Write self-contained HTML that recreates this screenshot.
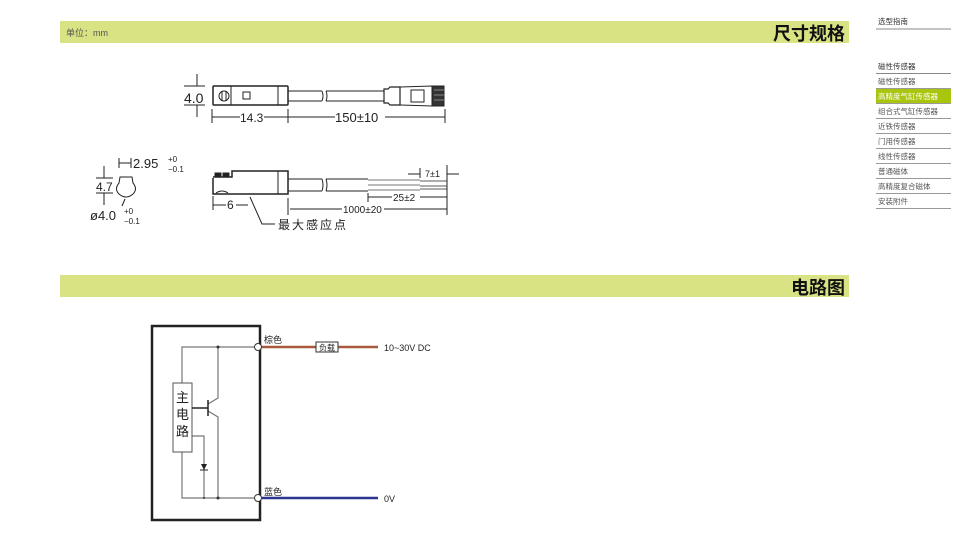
<!DOCTYPE html>
<html><head><meta charset="utf-8"><style>
html,body{margin:0;padding:0;background:#fff;}
svg{display:block;}
text{font-family:"Liberation Sans","Noto Sans CJK SC",sans-serif;}
</style></head><body>
<svg width="953" height="536" viewBox="0 0 953 536" xmlns="http://www.w3.org/2000/svg">
<!-- header bars -->
<rect x="60" y="21" width="789" height="22" fill="#dae384"/>
<text x="66" y="36" font-size="9" fill="#555">单位：mm</text>
<text x="845" y="40" font-size="18" font-weight="bold" fill="#111" text-anchor="end">尺寸规格</text>
<rect x="60" y="275" width="789" height="22" fill="#dae384"/>
<text x="845" y="294" font-size="18" font-weight="bold" fill="#111" text-anchor="end">电路图</text>

<!-- sidebar -->
<g font-size="7.5" fill="#333">
<text x="878" y="24">选型指南</text>
<line x1="876" y1="29" x2="951" y2="29" stroke="#888" stroke-width="1"/>
<text x="878" y="69">磁性传感器</text>
<line x1="876" y1="73.5" x2="951" y2="73.5" stroke="#888"/>
<text x="878" y="84" fill="#555">磁性传感器</text>
<line x1="876" y1="88.5" x2="951" y2="88.5" stroke="#999"/>
<rect x="876" y="89" width="75" height="14" fill="#a9c50e"/>
<text x="878" y="99" fill="#fff">高精度气缸传感器</text>
<line x1="876" y1="103.5" x2="951" y2="103.5" stroke="#999"/>
<text x="878" y="114" fill="#555">组合式气缸传感器</text>
<line x1="876" y1="118.5" x2="951" y2="118.5" stroke="#999"/>
<text x="878" y="129" fill="#555">近铁传感器</text>
<line x1="876" y1="133.5" x2="951" y2="133.5" stroke="#999"/>
<text x="878" y="144" fill="#555">门用传感器</text>
<line x1="876" y1="148.5" x2="951" y2="148.5" stroke="#999"/>
<text x="878" y="159" fill="#555">线性传感器</text>
<line x1="876" y1="163.5" x2="951" y2="163.5" stroke="#999"/>
<text x="878" y="174" fill="#555">普通磁体</text>
<line x1="876" y1="178.5" x2="951" y2="178.5" stroke="#999"/>
<text x="878" y="189" fill="#555">高精度复合磁体</text>
<line x1="876" y1="193.5" x2="951" y2="193.5" stroke="#999"/>
<text x="878" y="204" fill="#555">安装附件</text>
<line x1="876" y1="208.5" x2="951" y2="208.5" stroke="#999"/>
</g>

<!-- top view -->
<g stroke="#222" fill="none" stroke-width="1">
<rect x="213" y="86" width="75" height="19" rx="1" stroke-width="1.5"/>
<circle cx="224" cy="96" r="5"/>
<line x1="222" y1="91" x2="222" y2="101"/><line x1="226" y1="91" x2="226" y2="101"/>
<line x1="231" y1="86" x2="231" y2="105"/>
<rect x="243" y="92" width="7" height="7"/>
<line x1="278" y1="86" x2="278" y2="105"/>
<line x1="288" y1="91" x2="322" y2="91"/><line x1="288" y1="101" x2="322" y2="101"/>
<line x1="326" y1="91" x2="384" y2="91"/><line x1="326" y1="101" x2="384" y2="101"/>
<path d="M322 91 q2 5 0 10 M326 91 q2 5 0 10"/>
<path d="M384 89 L388 89 L390 87 L400 87 L400 105 L390 105 L388 103 L384 103 Z" stroke-width="1.2"/>
<path d="M400 87 L432 86 L432 106 L400 105"/>
<rect x="411" y="90" width="13" height="12"/>
<rect x="432" y="86" width="12" height="20" fill="#333"/>
<line x1="434" y1="90" x2="444" y2="90" stroke="#888"/><line x1="434" y1="95" x2="444" y2="95" stroke="#888"/><line x1="434" y1="100" x2="444" y2="100" stroke="#888"/>
<!-- dims -->
<line x1="212" y1="109" x2="212" y2="123"/><line x1="288" y1="109" x2="288" y2="123"/><line x1="445" y1="109" x2="445" y2="123"/>
<line x1="212" y1="117" x2="240" y2="117"/><line x1="264" y1="117" x2="288" y2="117"/>
<line x1="288" y1="117" x2="335" y2="117"/><line x1="385" y1="117" x2="445" y2="117"/>
<line x1="184" y1="86" x2="205" y2="86"/><line x1="184" y1="105" x2="205" y2="105"/>
<line x1="197" y1="74" x2="197" y2="86"/><line x1="197" y1="105" x2="197" y2="117"/>
</g>
<text x="184" y="103" font-size="14" fill="#222">4.0</text>
<text x="240" y="122" font-size="12" fill="#222">14.3</text>
<text x="335" y="122" font-size="13" fill="#222">150±10</text>

<!-- side view -->
<g stroke="#222" fill="none" stroke-width="1">
<path d="M213 178 L213 194 L288 194 L288 171 L232 171 L232 177 L213 177" stroke-width="1.5"/>
<rect x="215" y="173" width="6" height="4" fill="#222"/><rect x="223" y="173" width="6" height="4" fill="#222"/>
<line x1="278" y1="171" x2="278" y2="194"/>
<path d="M216 193 q6 -4 12 0" />
<line x1="288" y1="179" x2="322" y2="179"/><line x1="288" y1="191" x2="322" y2="191"/>
<line x1="326" y1="179" x2="368" y2="179"/><line x1="326" y1="191" x2="368" y2="191"/>
<path d="M322 179 q2 6 0 12 M326 179 q2 6 0 12"/>
<line x1="368" y1="180" x2="420" y2="180" stroke="#777"/><line x1="368" y1="185" x2="420" y2="185" stroke="#777"/><line x1="368" y1="190" x2="420" y2="190" stroke="#777"/>
<line x1="420" y1="181" x2="447" y2="181" stroke-width="0.8"/><line x1="420" y1="186" x2="447" y2="186" stroke-width="0.8"/><line x1="420" y1="189" x2="447" y2="189" stroke-width="0.8"/>
<!-- dims -->
<line x1="420" y1="168" x2="420" y2="178"/><line x1="447" y1="165" x2="447" y2="215"/>
<line x1="408" y1="174" x2="420" y2="174"/><line x1="447" y1="174" x2="459" y2="174"/>
<line x1="368" y1="193" x2="368" y2="202"/>
<line x1="368" y1="197" x2="392" y2="197"/><line x1="420" y1="197" x2="447" y2="197"/>
<line x1="288" y1="198" x2="288" y2="215"/>
<line x1="290" y1="209" x2="342" y2="209"/><line x1="384" y1="209" x2="447" y2="209"/>
<line x1="213" y1="196" x2="213" y2="210"/>
<line x1="213" y1="205" x2="226" y2="205"/><line x1="236" y1="205" x2="248" y2="205"/>
<path d="M250 197 L262 224 L275 224"/>
<!-- left dims -->
<line x1="96" y1="178" x2="113" y2="178"/><line x1="96" y1="193" x2="113" y2="193"/>
<line x1="104" y1="166" x2="104" y2="178"/><line x1="104" y1="193" x2="104" y2="205"/>
<line x1="119" y1="158" x2="119" y2="168"/><line x1="131" y1="158" x2="131" y2="168"/><line x1="119" y1="163" x2="131" y2="163"/>
<path d="M120 177 L132 177 L133 183 Q138 189 133 194 Q126 200 119 194 Q114 189 119 183 Z"/>
<line x1="125" y1="199" x2="122" y2="206"/>
</g>
<text x="133" y="168" font-size="13" fill="#222">2.95</text>
<text x="168" y="162" font-size="8" fill="#222">+0</text>
<text x="168" y="172" font-size="8" fill="#222">−0.1</text>
<text x="96" y="191" font-size="12" fill="#222">4.7</text>
<text x="90" y="220" font-size="13" fill="#222">ø4.0</text>
<text x="124" y="214" font-size="8" fill="#222">+0</text>
<text x="124" y="224" font-size="8" fill="#222">−0.1</text>
<text x="425" y="177" font-size="9" fill="#222">7±1</text>
<text x="393" y="201" font-size="10" fill="#222">25±2</text>
<text x="343" y="213" font-size="10" fill="#222">1000±20</text>
<text x="227" y="209" font-size="12" fill="#222">6</text>
<text x="278" y="229" font-size="12" fill="#222" letter-spacing="2">最大感应点</text>

<!-- circuit -->
<rect x="152" y="326" width="108" height="194" fill="none" stroke="#222" stroke-width="2.5"/>
<g stroke="#777" stroke-width="1.2" fill="none">
<polyline points="182,383 182,347 258,347"/>
<polyline points="182,452 182,498 258,498"/>
<polyline points="208,404 218,398 218,347"/>
<polyline points="208,411 218,417 218,498"/>
<polyline points="192,436 204,436 204,498"/>
</g>
<rect x="173" y="383" width="19" height="69" fill="#fff" stroke="#555" stroke-width="1"/>
<text x="182.5" y="402" font-size="13" fill="#222" text-anchor="middle">主</text>
<text x="182.5" y="419" font-size="13" fill="#222" text-anchor="middle">电</text>
<text x="182.5" y="436" font-size="13" fill="#222" text-anchor="middle">路</text>
<line x1="192" y1="408" x2="208" y2="408" stroke="#222" stroke-width="1.5"/>
<line x1="208" y1="400" x2="208" y2="416" stroke="#222" stroke-width="1.5"/>
<path d="M201 464 L207 464 L204 470 Z" fill="#222"/><line x1="200" y1="470" x2="208" y2="470" stroke="#222"/>
<circle cx="218" cy="347" r="1.5" fill="#333"/><circle cx="218" cy="498" r="1.5" fill="#333"/><circle cx="204" cy="498" r="1" fill="#333"/>
<line x1="262" y1="347" x2="378" y2="347" stroke="#a85a3e" stroke-width="2.5"/>
<line x1="262" y1="498" x2="378" y2="498" stroke="#2b3592" stroke-width="2.5"/>
<circle cx="258" cy="347" r="3.5" fill="#fff" stroke="#333"/>
<circle cx="258" cy="498" r="3.5" fill="#fff" stroke="#333"/>
<rect x="316" y="342" width="22" height="10" fill="#fff" stroke="#333"/>
<text x="327" y="350.5" font-size="8" fill="#222" text-anchor="middle">负载</text>
<text x="264" y="343" font-size="9" fill="#222">棕色</text>
<text x="264" y="495" font-size="9" fill="#222">蓝色</text>
<text x="384" y="351" font-size="9" fill="#222">10~30V DC</text>
<text x="384" y="502" font-size="9" fill="#222">0V</text>
</svg>
</body></html>
